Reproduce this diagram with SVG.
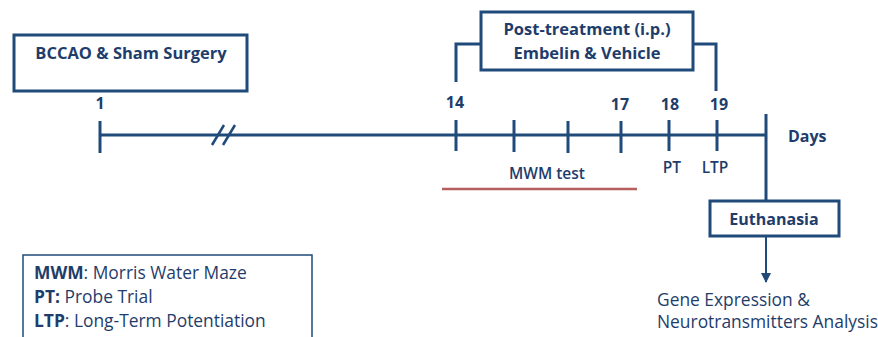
<svg xmlns="http://www.w3.org/2000/svg" width="878" height="337" viewBox="0 0 878 337">
<defs>
<style>
.ln{stroke:#1F4A7A;stroke-width:3;fill:none}
.box{stroke:#1F4A7A;stroke-width:3;fill:#fff}
.t{font-family:"Open Sans","Liberation Sans",sans-serif;fill:#1F3D6B}
.b{font-weight:bold}
.r{font-size:17.4px}
</style>
<marker id="ah" viewBox="0 0 10 10" refX="9" refY="5" markerWidth="5" markerHeight="5" orient="auto" markerUnits="strokeWidth">
<path d="M0,0 L10,5 L0,10 z" fill="#1F4A7A"/>
</marker>
</defs>
<rect width="878" height="337" fill="#fff"/>
<g id="connectors">
<line class="ln" x1="100" y1="135" x2="766" y2="135"/>
<line class="ln" x1="100" y1="121" x2="100" y2="153"/>
<line class="ln" x1="212" y1="145" x2="224" y2="125" style="stroke-width:2.5"/>
<line class="ln" x1="223" y1="145" x2="235" y2="125" style="stroke-width:2.5"/>
<line class="ln" x1="456" y1="120" x2="456" y2="151"/>
<line class="ln" x1="514" y1="120" x2="514" y2="152"/>
<line class="ln" x1="568" y1="121" x2="568" y2="153"/>
<line class="ln" x1="621" y1="121" x2="621" y2="153"/>
<line class="ln" x1="669" y1="120" x2="669" y2="151"/>
<line class="ln" x1="717" y1="120" x2="717" y2="151"/>
<line class="ln" x1="766" y1="114" x2="766" y2="200"/>
<polyline class="ln" points="480,44 456,44 456,82"/>
<polyline class="ln" points="693,44 716,44 716,91"/>
<line x1="442" y1="189" x2="637" y2="189" stroke="#B5605E" stroke-width="2.5"/>
<line class="ln" x1="766" y1="237" x2="766" y2="282" style="stroke-width:2" marker-end="url(#ah)"/>
</g>
<g id="bccao">
<rect class="box" x="14" y="35" width="233" height="56"/>
<text class="t b" x="131" y="59" font-size="16.5" text-anchor="middle">BCCAO &amp; Sham Surgery</text>
</g>
<g id="post-treatment">
<rect class="box" x="481" y="12" width="212" height="58"/>
<text class="t b" x="587" y="35" font-size="16.5" text-anchor="middle">Post-treatment (i.p.)</text>
<text class="t b" x="587" y="59" font-size="16.5" text-anchor="middle">Embelin &amp; Vehicle</text>
</g>
<g id="day-labels">
<text class="t b" x="100" y="109" font-size="16" text-anchor="middle">1</text>
<text class="t b" x="455" y="108" font-size="16" text-anchor="middle">14</text>
<text class="t b" x="620" y="110" font-size="16" text-anchor="middle">17</text>
<text class="t b" x="670" y="110" font-size="16" text-anchor="middle">18</text>
<text class="t b" x="719" y="110" font-size="16" text-anchor="middle">19</text>
<text class="t b" x="788" y="142" font-size="16">Days</text>
<text class="t" x="547" y="179" font-size="15.5" font-weight="600" text-anchor="middle">MWM test</text>
<text class="t" x="672" y="173" font-size="15.5" font-weight="600" text-anchor="middle">PT</text>
<text class="t" x="715" y="173" font-size="15.5" font-weight="600" text-anchor="middle">LTP</text>
</g>
<g id="euthanasia">
<rect class="box" x="710" y="201" width="129" height="35"/>
<text class="t b" x="774" y="225" font-size="16" text-anchor="middle">Euthanasia</text>
</g>
<g id="analysis">
<text class="t r" x="657" y="306">Gene Expression &amp;</text>
<text class="t r" x="657" y="328">Neurotransmitters Analysis</text>
</g>
<g id="legend">
<rect x="23" y="255" width="289" height="90" fill="#fff" stroke="#1F4A7A" stroke-width="1.5"/>
<text class="t r" x="34" y="279"><tspan class="b">MWM</tspan>: Morris Water Maze</text>
<text class="t r" x="34" y="303"><tspan class="b">PT:</tspan> Probe Trial</text>
<text class="t r" x="34" y="327"><tspan class="b">LTP</tspan>: Long-Term Potentiation</text>
</g>
</svg>
